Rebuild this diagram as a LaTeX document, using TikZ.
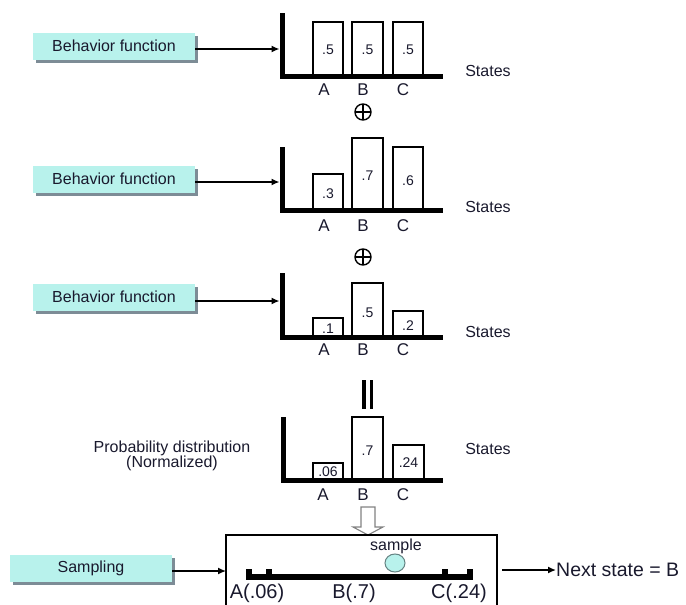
\documentclass[tikz,border=0pt]{standalone}
\usepackage{fontspec}
\setmainfont{Liberation Sans}
\usetikzlibrary{arrows.meta,shadows,shapes.geometric}
\definecolor{boxcyan}{RGB}{184,242,236}
\definecolor{shadowgray}{RGB}{125,140,150}
\definecolor{inkc}{RGB}{25,25,45}
\definecolor{hollowgray}{RGB}{130,130,130}
\definecolor{dotedge}{RGB}{100,130,130}

\begin{document}
\begin{tikzpicture}[x=1pt,y=-1pt,
  lbl/.style={font=\fontsize{16}{18}\selectfont, text=inkc, inner sep=0},
  val/.style={font=\fontsize{14}{16}\selectfont, text=inkc, inner sep=0},
  letter/.style={font=\fontsize{17}{19}\selectfont, text=inkc, inner sep=0},
  big/.style={font=\fontsize{20}{22}\selectfont, text=inkc, inner sep=0},
  fnbox/.style={fill=boxcyan, minimum width=162pt, minimum height=27pt, inner sep=0,
    font=\fontsize{16}{18}\selectfont, text=inkc,
    drop shadow={shadow xshift=3pt, shadow yshift=-3pt, fill=shadowgray, opacity=1}},
  barbox/.style={draw=black, fill=white, line width=1.1pt},
  axisline/.style={line width=5pt, miter limit=10},
  conn/.style={line width=1.4pt, -{Latex[length=8pt,width=7pt]}},
  oplus/.style={line width=1.4pt},
  hollow/.style={draw=hollowgray, fill=white, line width=1.1pt, line join=miter},
]
\useasboundingbox (0,0) rectangle (686,605);

% ---------- first behaviour: uniform ----------
\draw[barbox] (313,22) rectangle (343,76.5);
\draw[barbox] (352,22) rectangle (383,76.5);
\draw[barbox] (393,22) rectangle (423,76.5);
\node[val] (v1a) at (328,50) {.5};
\node[val] (v1b) at (367.5,50) {.5};
\node[val] (v1c) at (408,50) {.5};
\draw[axisline] (282,13) -- (282,76.5) -- (443,76.5);
\node[letter] (l1a) at (324,90) {A};
\node[letter] (l1b) at (363,90) {B};
\node[letter] (l1c) at (403,90) {C};
\node[lbl] (s1) at (488,71) {States};
\coordinate (ax1) at (279.5,49);
\node[fnbox] (bf1) at (114,46) {Behavior function};
\draw[conn] (bf1.east |- ax1) -- (ax1);

% combination sign
\node[inner sep=0, minimum size=16pt] (op1) at (363,112) {};
\draw[oplus] (op1.center) circle (8);
\draw[oplus] (op1.north) -- (op1.south) (op1.west) -- (op1.east);

% ---------- second behaviour ----------
\draw[barbox] (313,174) rectangle (343,210);
\draw[barbox] (352,138) rectangle (383,210);
\draw[barbox] (393,147) rectangle (423,210);
\node[val] (v2a) at (328,194) {.3};
\node[val] (v2b) at (367.5,176) {.7};
\node[val] (v2c) at (408,181) {.6};
\draw[axisline] (282,147) -- (282,210) -- (443,210);
\node[letter] (l2a) at (324,226) {A};
\node[letter] (l2b) at (363,226) {B};
\node[letter] (l2c) at (403,226) {C};
\node[lbl] (s2) at (488,207) {States};
\coordinate (ax2) at (279.5,182);
\node[fnbox] (bf2) at (114,179) {Behavior function};
\draw[conn] (bf2.east |- ax2) -- (ax2);

\node[inner sep=0, minimum size=16pt] (op2) at (363,257) {};
\draw[oplus] (op2.center) circle (8);
\draw[oplus] (op2.north) -- (op2.south) (op2.west) -- (op2.east);

% ---------- third behaviour ----------
\draw[barbox] (313,318) rectangle (343,337);
\draw[barbox] (352,283) rectangle (383,337);
\draw[barbox] (393,311) rectangle (423,337);
\node[val] (v3a) at (328,329) {.1};
\node[val] (v3b) at (367.5,313) {.5};
\node[val] (v3c) at (408,326) {.2};
\draw[axisline] (282,273) -- (282,337) -- (443,337);
\node[letter] (l3a) at (324,350) {A};
\node[letter] (l3b) at (363,350) {B};
\node[letter] (l3c) at (403,350) {C};
\node[lbl] (s3) at (488,332) {States};
\coordinate (ax3) at (279.5,301);
\node[fnbox] (bf3) at (114,297) {Behavior function};
\draw[conn] (bf3.east |- ax3) -- (ax3);

% equality sign
\fill (361.8,380) rectangle (365.6,409);
\fill (369.6,380) rectangle (373.4,409);

% ---------- normalized distribution ----------
\draw[barbox] (313,463) rectangle (343,480);
\draw[barbox] (352,417) rectangle (383,480);
\draw[barbox] (393,445) rectangle (424,480);
\node[val] (v4a) at (328,472) {.06};
\node[val] (v4b) at (367.5,451) {.7};
\node[val] (v4c) at (408.5,463) {.24};
\draw[axisline] (283,417) -- (283,480) -- (443,480);
\node[letter] (l4a) at (323,495) {A};
\node[letter] (l4b) at (363,495) {B};
\node[letter] (l4c) at (403,495) {C};
\node[lbl] (s4) at (488,449) {States};
\node[lbl, align=center, font=\fontsize{16}{15}\selectfont] (pd) at (172,456)
  {Probability distribution\\(Normalized)};

% hollow arrow into the sampler
\draw[hollow] (361,507) -- (375,507) -- (375,527) -- (383,527) -- (368,535)
  -- (353,527) -- (361,527) -- cycle;

% ---------- sampling ----------
\draw[line width=1.2pt] (226,606) -- (226,535) -- (497,535) -- (497,606);
\coordinate (sbL) at (226,571);
\coordinate (sbR) at (502,570);
\draw[line width=6pt, miter limit=10] (249,569) -- (249,577) -- (470,577) -- (470,569);
\draw[line width=6pt] (269,577) -- (269,569);
\draw[line width=6pt] (445,577) -- (445,569);
\node[big] (na) at (257,593) {A(.06)};
\node[big] (nb) at (354,593) {B(.7)};
\node[big] (nc) at (459,593) {C(.24)};
\node[draw=dotedge, fill=boxcyan, ellipse, line width=1pt,
  minimum width=20pt, minimum height=18pt, inner sep=0] (dot) at (395,563) {};
\node[lbl] (smp) at (396,546) {sample};

\node[fnbox] (sam) at (91,568.5) {Sampling};
\draw[conn] (sam.east |- sbL) -- (sbL);

\node[anchor=west, inner sep=0, text=inkc, font=\fontsize{19.5}{21}\selectfont]
  (next) at (556,570) {Next state = B};
\draw[conn] (sbR) -- (next.west);
\end{tikzpicture}
\end{document}
